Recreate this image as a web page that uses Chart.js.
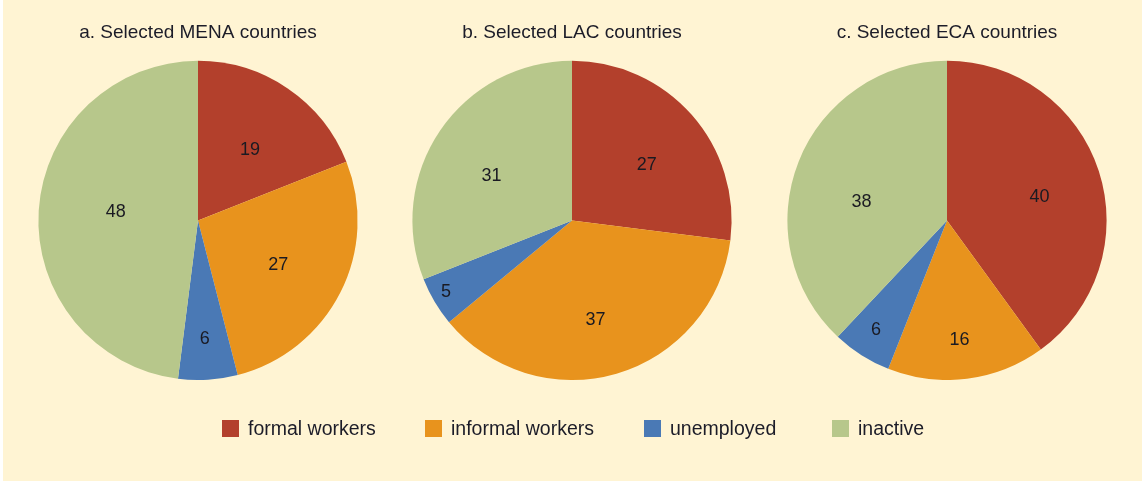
<!DOCTYPE html>
<html>
<head>
<meta charset="utf-8">
<script src="https://cdn.jsdelivr.net/npm/chart.js@4.4.1/dist/chart.umd.min.js"></script>
<style>
  html, body { margin: 0; padding: 0; }
  body { width: 1142px; height: 481px; background: #fff; position: relative; overflow: hidden; }
  #bg { position: absolute; left: 3px; top: 0; width: 1139px; height: 481px; background: #fff4d3; }
  .pie { position: absolute; top: 0; width: 360px; height: 380px; }
  #legend { position: absolute; left: 0; top: 0; width: 1142px; height: 481px; pointer-events: none; }
  .item { position: absolute; top: 419px; height: 18px; display: flex; align-items: center;
          font-family: "Liberation Sans", Arial, sans-serif; font-size: 19.5px; color: #1c1c28; white-space: nowrap; }
  .box { width: 17px; height: 17px; margin-right: 9px; flex: none; }
</style>
</head>
<body>
<div id="bg"></div>
<div class="pie" style="left:18px"><canvas id="c0"></canvas></div>
<div class="pie" style="left:392px"><canvas id="c1"></canvas></div>
<div class="pie" style="left:767px"><canvas id="c2"></canvas></div>
<div id="legend"></div>
<script>
// ---- data ----
const categories = ["formal workers", "informal workers", "unemployed", "inactive"];
const titles = ["a. Selected MENA countries", "b. Selected LAC countries", "c. Selected ECA countries"];
const menaValues = [19, 27, 6, 48];
const lacValues = [27, 37, 5, 31];
const ecaValues = [40, 16, 6, 38];

// ---- styles ----
const colors = ["#b3402c", "#e8931d", "#4a79b5", "#b7c78b"];
// label placement: fraction of outer radius, and position along the slice's angle (0..1)
const labelRadius = [
  [0.56, 0.57, 0.73, 0.52],
  [0.59, 0.63, 0.90, 0.58],
  [0.60, 0.74, 0.81, 0.55]
];
const labelAngle = [
  [0.52, 0.51, 0.51, 0.52],
  [0.54, 0.52, 0.60, 0.46],
  [0.52, 0.52, 0.54, 0.44]
];
const legendX = [222, 425, 644, 832];
const fontFamily = '"Liberation Sans", Arial, sans-serif';

const sliceLabels = {
  id: 'sliceLabels',
  afterDatasetsDraw(chart, args, opts) {
    const ctx = chart.ctx;
    const meta = chart.getDatasetMeta(0);
    const vals = chart.data.datasets[0].data;
    ctx.save();
    ctx.font = '18px ' + fontFamily;
    ctx.fillStyle = '#1a1a22';
    ctx.textAlign = 'center';
    ctx.textBaseline = 'middle';
    meta.data.forEach((arc, i) => {
      const p = arc.getProps(['x', 'y', 'startAngle', 'endAngle', 'outerRadius'], true);
      const a = p.startAngle + (p.endAngle - p.startAngle) * opts.angle[i];
      const r = p.outerRadius * opts.radius[i];
      ctx.fillText(String(vals[i]), p.x + Math.cos(a) * r, p.y + Math.sin(a) * r + 2);
    });
    ctx.restore();
  }
};

[menaValues, lacValues, ecaValues].forEach((vals, k) => {
  new Chart(document.getElementById('c' + k), {
    type: 'pie',
    data: {
      labels: categories,
      datasets: [{
        data: vals,
        backgroundColor: colors,
        borderWidth: 0,
        hoverOffset: 0,
        offset: 0
      }]
    },
    options: {
      responsive: true,
      maintainAspectRatio: false,
      animation: false,
      events: [],
      layout: { padding: 0 },
      plugins: {
        legend: { display: false },
        tooltip: { enabled: false },
        title: {
          display: true,
          text: titles[k],
          color: '#1c1c28',
          font: { family: fontFamily, size: 19, weight: 'normal', lineHeight: 1.2 },
          padding: { top: 21, bottom: 17 }
        },
        sliceLabels: { radius: labelRadius[k], angle: labelAngle[k] }
      }
    },
    plugins: [sliceLabels]
  });
});

const legend = document.getElementById('legend');
categories.forEach((c, i) => {
  const d = document.createElement('div');
  d.className = 'item';
  d.style.left = legendX[i] + 'px';
  const b = document.createElement('span');
  b.className = 'box';
  b.style.background = colors[i];
  const t = document.createElement('span');
  t.textContent = c;
  d.appendChild(b); d.appendChild(t);
  legend.appendChild(d);
});
</script>
</body>
</html>
